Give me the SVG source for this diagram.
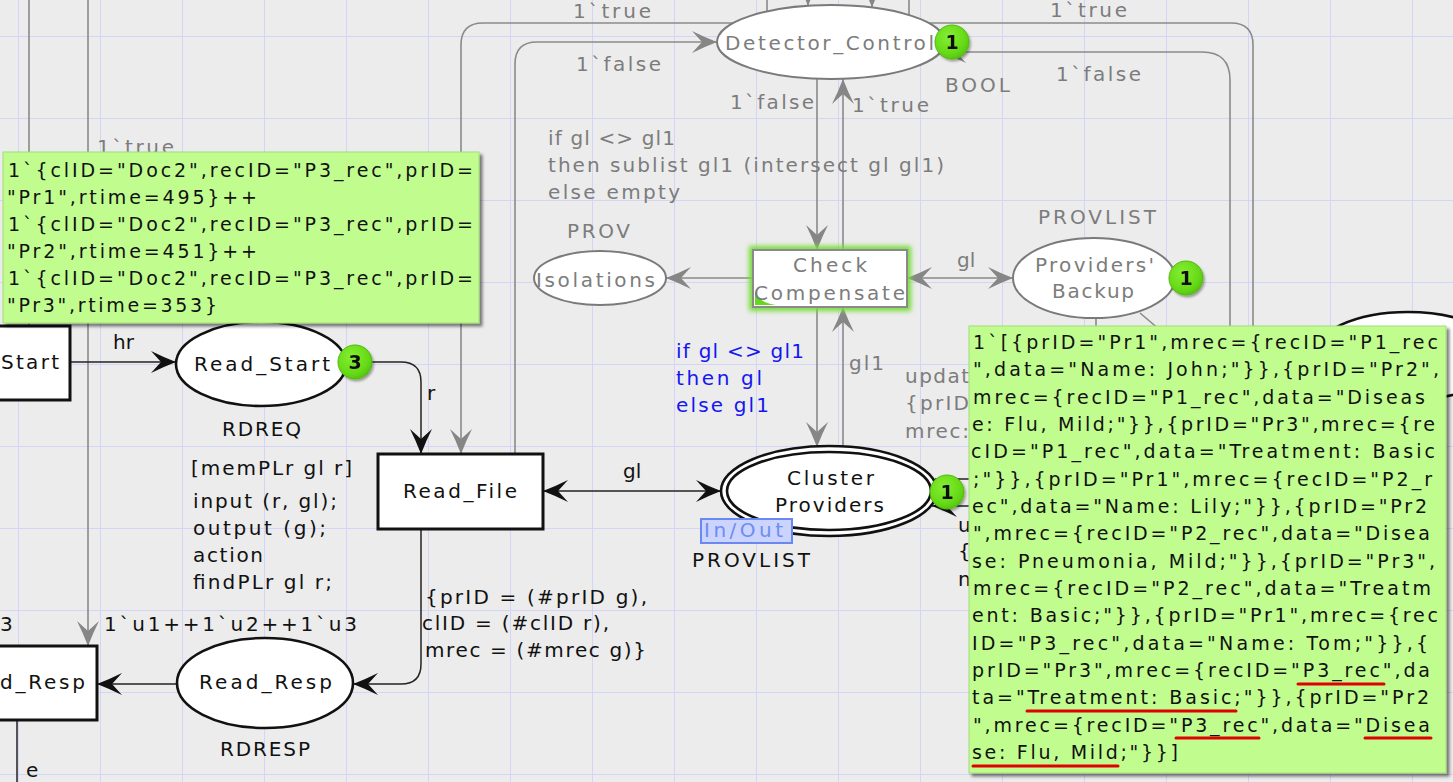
<svg xmlns="http://www.w3.org/2000/svg" width="1453" height="782" viewBox="0 0 1453 782">
  <defs>
    <style>
      text { font-family: "DejaVu Sans", "Liberation Sans", sans-serif; font-size: 20px; }
      .k { fill: #111; }
      .g { fill: #7c7c7c; }
      .b { fill: #1616f2; }
      .note text { font-size: 19px; fill: #111; }
      .note rect { fill: #c1fd8e; stroke: #a3dc7a; stroke-width: 1; }
      .arc-k { fill: none; stroke: #222; stroke-width: 1.5; }
      .arc-g { fill: none; stroke: #8a8a8a; stroke-width: 1.6; }
      .pl-k { fill: #fff; stroke: #111; stroke-width: 2.6; }
      .pl-g { fill: #fff; stroke: #7a7a7a; stroke-width: 2; }
      .tr-k { fill: #fff; stroke: #111; stroke-width: 3; }
      .tr-g { fill: #fff; stroke: #8a8a8a; stroke-width: 2; }
      .tok circle { fill: url(#tokfill); stroke: #52b80f; stroke-width: 1; }
      .tok text { font-weight: bold; font-size: 19px; fill: #111; text-anchor: middle; }
      .ul { stroke: #e00000; stroke-width: 3; stroke-linecap: round; }
    </style>
    <pattern id="grid" x="18" y="36" width="82" height="82" patternUnits="userSpaceOnUse">
      <path d="M0.5,0 V82 M0,0.5 H82" fill="none" stroke="#d4d4f6" stroke-width="1"/>
    </pattern>
    <radialGradient id="tokfill" cx="0.4" cy="0.35" r="0.7">
      <stop offset="0" stop-color="#86ee34"/>
      <stop offset="0.7" stop-color="#66da16"/>
      <stop offset="1" stop-color="#52c00e"/>
    </radialGradient>
    <marker id="ak" viewBox="-27 -12 28 24" refX="0" refY="0" markerWidth="28" markerHeight="24" markerUnits="userSpaceOnUse" orient="auto-start-reverse">
      <path d="M0,0 Q-13,-5 -25,-11 L-15,0 L-25,11 Q-13,5 0,0 Z" fill="#111"/>
    </marker>
    <marker id="ag" viewBox="-27 -12 28 24" refX="0" refY="0" markerWidth="28" markerHeight="24" markerUnits="userSpaceOnUse" orient="auto-start-reverse">
      <path d="M0,0 Q-13,-5 -25,-11 L-15,0 L-25,11 Q-13,5 0,0 Z" fill="#868686"/>
    </marker>
    <filter id="shadow" x="-5%" y="-5%" width="115%" height="115%">
      <feDropShadow dx="3" dy="3" stdDeviation="1.6" flood-color="#000" flood-opacity="0.5"/>
    </filter>
    <filter id="tshadow" x="-30%" y="-30%" width="170%" height="170%">
      <feDropShadow dx="1.5" dy="2" stdDeviation="1.2" flood-color="#000" flood-opacity="0.35"/>
    </filter>
    <filter id="glow" x="-20%" y="-50%" width="140%" height="200%">
      <feGaussianBlur stdDeviation="2.5"/>
    </filter>
  </defs>

  <!-- canvas and grid -->
  <rect x="0" y="0" width="1453" height="782" fill="#ececec"/>
  <rect x="0" y="0" width="1453" height="782" fill="url(#grid)"/>

  <!-- connectors -->
  <g id="arcs">
    <path class="arc-g" d="M29,0 V326"/>
    <path class="arc-g" d="M88,0 V646" marker-end="url(#ag)"/>
    <path class="arc-g" d="M733,23 H483 Q461,23 461,45 V454" marker-end="url(#ag)"/>
    <path class="arc-g" d="M515,454 V64 Q515,42 537,42 H717" marker-end="url(#ag)"/>
    <path class="arc-g" d="M929,23 H1231 Q1253,23 1253,45 V330"/>
    <path class="arc-g" d="M1230,330 V80 Q1230,52 1202,52 H941" marker-end="url(#ag)"/>
    <path class="arc-g" d="M767,0 V12"/>
    <path class="arc-g" d="M909,0 V15"/>
    <path class="arc-g" d="M808,-30 V6" marker-end="url(#ag)"/>
    <path class="arc-g" d="M872,-30 V7.5" marker-end="url(#ag)"/>
    <path class="arc-g" d="M817,79 V250" marker-end="url(#ag)"/>
    <path class="arc-g" d="M843,250 V79" marker-end="url(#ag)"/>
    <path class="arc-g" d="M753,278 H666" marker-end="url(#ag)"/>
    <path class="arc-g" d="M907,278 H1013" marker-start="url(#ag)" marker-end="url(#ag)"/>
    <path class="arc-g" d="M843,447 V307" marker-end="url(#ag)"/>
    <path class="arc-g" d="M817,307 V447" marker-end="url(#ag)"/>
    <path class="arc-g" d="M1096,318 V330"/>
    <path class="arc-g" d="M1140,313 L1160,330"/>

    <path class="arc-k" d="M70,362 H176" marker-end="url(#ak)"/>
    <path class="arc-k" d="M350,362 H401 Q421,362 421,382 V454" marker-end="url(#ak)"/>
    <path class="arc-k" d="M543,491 H721" marker-start="url(#ak)" marker-end="url(#ak)"/>
    <path class="arc-k" d="M421,529 V664 Q421,684 401,684 H353" marker-end="url(#ak)"/>
    <path class="arc-k" d="M177,684 H97" marker-end="url(#ak)"/>
    <path class="arc-k" d="M17,720 V782"/>
    <path class="arc-k" d="M935,479 H970"/>
    <path class="arc-k" d="M970,506 H932" marker-end="url(#ak)"/>
  </g>

  <!-- arc inscriptions -->
  <g id="arc-labels">
    <text class="g" x="97" y="154" textLength="77">1`true</text>
    <text class="g" x="573" y="18" textLength="78">1`true</text>
    <text class="g" x="576" y="71" textLength="85">1`false</text>
    <text class="g" x="1050" y="17" textLength="77">1`true</text>
    <text class="g" x="1056" y="81" textLength="85">1`false</text>
    <text class="g" x="730" y="109" textLength="84">1`false</text>
    <text class="g" x="852" y="112" textLength="77">1`true</text>
    <text class="g" x="548" y="145" textLength="127">if gl &lt;&gt; gl1</text>
    <text class="g" x="548" y="172" textLength="396">then sublist gl1 (intersect gl gl1)</text>
    <text class="g" x="548" y="199" textLength="132">else empty</text>
    <text class="g" x="957" y="267">gl</text>
    <text class="g" x="849" y="370" textLength="35">gl1</text>
    <text class="b" x="676" y="358" textLength="128">if gl &lt;&gt; gl1</text>
    <text class="b" x="676" y="385" textLength="86">then gl</text>
    <text class="b" x="676" y="412" textLength="93">else gl1</text>
    <text class="g" x="905" y="383" textLength="64">updat</text>
    <text class="g" x="905" y="410" textLength="64">{prID</text>
    <text class="g" x="905" y="438" textLength="64">mrec:</text>
    <text class="k" x="958" y="532">u</text>
    <text class="k" x="958" y="558">{</text>
    <text class="k" x="958" y="586">n</text>
    <text class="k" x="113" y="349">hr</text>
    <text class="k" x="427" y="400">r</text>
    <text class="k" x="623" y="478">gl</text>
    <text class="k" x="425" y="604" textLength="222">{prID = (#prID g),</text>
    <text class="k" x="422" y="630" textLength="187">clID = (#clID r),</text>
    <text class="k" x="425" y="657" textLength="221">mrec = (#mrec g)}</text>
    <text class="k" x="104" y="631" textLength="253">1`u1++1`u2++1`u3</text>
    <text class="k" x="0" y="631">3</text>
    <text class="k" x="26" y="777">e</text>
  </g>

  <g id="t-start">
    <rect class="tr-k" x="-5" y="326" width="75" height="74"/>
    <text class="k" x="1" y="369" textLength="58">Start</text>
  </g>

  <g id="p-read-start">
    <ellipse class="pl-k" cx="261" cy="364" rx="85" ry="42"/>
    <text class="k" x="194" y="371" textLength="136">Read_Start</text>
    <text class="k" x="222" y="436" textLength="79">RDREQ</text>
  </g>

  <g id="t-read-file">
    <rect class="tr-k" x="378" y="454" width="165" height="75"/>
    <text class="k" x="403" y="498" textLength="114">Read_File</text>
    <text class="k" x="191" y="475" textLength="161">[memPLr gl r]</text>
    <text class="k" x="193" y="508" textLength="144">input (r, gl);</text>
    <text class="k" x="193" y="535" textLength="133">output (g);</text>
    <text class="k" x="193" y="562" textLength="70">action</text>
    <text class="k" x="193" y="589" textLength="139">findPLr gl r;</text>
  </g>

  <g id="p-read-resp">
    <ellipse class="pl-k" cx="265" cy="683" rx="88" ry="45"/>
    <text class="k" x="199" y="689" textLength="133">Read_Resp</text>
    <text class="k" x="220" y="756" textLength="90">RDRESP</text>
  </g>

  <g id="t-read-resp">
    <rect class="tr-k" x="-5" y="646" width="102" height="74"/>
    <text class="k" x="0" y="689" textLength="85">d_Resp</text>
  </g>

  <g id="p-detector-control">
    <ellipse class="pl-g" cx="831" cy="42" rx="114" ry="37"/>
    <text class="g" x="725" y="50" textLength="209">Detector_Control</text>
    <text class="g" x="945" y="92" textLength="65">BOOL</text>
  </g>

  <g id="t-check-compensate">
    <rect x="753" y="250" width="154" height="57" fill="none" stroke="#74dc38" stroke-width="8" filter="url(#glow)"/>
    <rect class="tr-g" x="753" y="250" width="154" height="57"/>
    <path d="M755,291 Q759,303 776,305 L755,305 Z" fill="#66d81a"/>
    <text class="g" x="793" y="272" textLength="74">Check</text>
    <text class="g" x="754" y="300" textLength="151">Compensate</text>
  </g>

  <g id="p-isolations">
    <ellipse class="pl-g" cx="600" cy="278" rx="66" ry="27"/>
    <text class="g" x="536" y="287" textLength="119">Isolations</text>
    <text class="g" x="567" y="238" textLength="63">PROV</text>
  </g>

  <g id="p-providers-backup">
    <ellipse class="pl-g" cx="1094" cy="278" rx="81" ry="40"/>
    <text class="g" x="1035" y="272" textLength="119">Providers'</text>
    <text class="g" x="1052" y="298" textLength="82">Backup</text>
    <text class="g" x="1038" y="224" textLength="118">PROVLIST</text>
  </g>

  <g id="p-cluster-providers">
    <ellipse class="pl-k" cx="829" cy="491" rx="108" ry="45"/>
    <ellipse class="pl-k" cx="829" cy="491" rx="102" ry="39"/>
    <text class="k" x="787" y="485" textLength="87">Cluster</text>
    <text class="k" x="775" y="512" textLength="109">Providers</text>
    <rect x="701" y="519" width="91" height="24" fill="#cad4fc" stroke="#6b87f2" stroke-width="2"/>
    <text x="704" y="537" textLength="79" fill="#6f8cf5" font-size="19">In/Out</text>
    <text class="k" x="692" y="567" textLength="118">PROVLIST</text>
  </g>

  <g id="p-right">
    <ellipse class="pl-k" cx="1408" cy="356" rx="95" ry="44"/>
  </g>

  <!-- token counts -->
  <g id="tokens" class="tok" filter="url(#tshadow)">
    <circle cx="355" cy="362" r="17"/><text x="355" y="369">3</text>
    <circle cx="952" cy="42" r="17"/><text x="952" y="49">1</text>
    <circle cx="1186" cy="278" r="17"/><text x="1186" y="285">1</text>
    <circle cx="947" cy="492" r="17"/><text x="947" y="499">1</text>
  </g>

  <!-- marking of Read_Start -->
  <g id="marking-read-start" class="note">
    <rect x="3" y="152" width="476" height="171" filter="url(#shadow)"/>
    <text x="8" y="177" textLength="465">1`{clID="Doc2",recID="P3_rec",prID=</text>
    <text x="7" y="204" textLength="250">"Pr1",rtime=495}++</text>
    <text x="8" y="231" textLength="465">1`{clID="Doc2",recID="P3_rec",prID=</text>
    <text x="7" y="258" textLength="250">"Pr2",rtime=451}++</text>
    <text x="8" y="285" textLength="465">1`{clID="Doc2",recID="P3_rec",prID=</text>
    <text x="7" y="312" textLength="210">"Pr3",rtime=353}</text>
  </g>

  <!-- marking of Cluster Providers -->
  <g id="marking-cluster-providers" class="note">
    <rect x="969" y="326" width="477" height="447" filter="url(#shadow)"/>
    <text x="973" y="349" textLength="465">1`[{prID="Pr1",mrec={recID="P1_rec</text>
    <text x="973" y="376" textLength="466">",data="Name: John;"}},{prID="Pr2",</text>
    <text x="973" y="404" textLength="452">mrec={recID="P1_rec",data="Diseas</text>
    <text x="972" y="431" textLength="463">e: Flu, Mild;"}},{prID="Pr3",mrec={re</text>
    <text x="971" y="458" textLength="464">cID="P1_rec",data="Treatment: Basic</text>
    <text x="973" y="486" textLength="459">;"}},{prID="Pr1",mrec={recID="P2_r</text>
    <text x="972" y="513" textLength="455">ec",data="Name: Lily;"}},{prID="Pr2</text>
    <text x="973" y="540" textLength="457">",mrec={recID="P2_rec",data="Disea</text>
    <text x="972" y="568" textLength="463">se: Pneumonia, Mild;"}},{prID="Pr3",</text>
    <text x="973" y="595" textLength="458">mrec={recID="P2_rec",data="Treatm</text>
    <text x="972" y="622" textLength="466">ent: Basic;"}},{prID="Pr1",mrec={rec</text>
    <text x="972" y="650" textLength="456">ID="P3_rec",data="Name: Tom;"}},{</text>
    <text x="972" y="677" textLength="458">prID="Pr3",mrec={recID="P3_rec",da</text>
    <text x="972" y="704" textLength="457">ta="Treatment: Basic;"}},{prID="Pr2</text>
    <text x="973" y="732" textLength="457">",mrec={recID="P3_rec",data="Disea</text>
    <text x="972" y="759" textLength="206">se: Flu, Mild;"}}]</text>
  </g>

  <!-- highlighted entries -->
  <g id="underlines">
    <line class="ul" x1="1298" y1="684" x2="1384" y2="684"/>
    <line class="ul" x1="1027" y1="711" x2="1236" y2="711"/>
    <line class="ul" x1="1176" y1="738" x2="1259" y2="738"/>
    <line class="ul" x1="1365" y1="738" x2="1431" y2="738"/>
    <line class="ul" x1="973" y1="766" x2="1118" y2="766"/>
  </g>
</svg>
